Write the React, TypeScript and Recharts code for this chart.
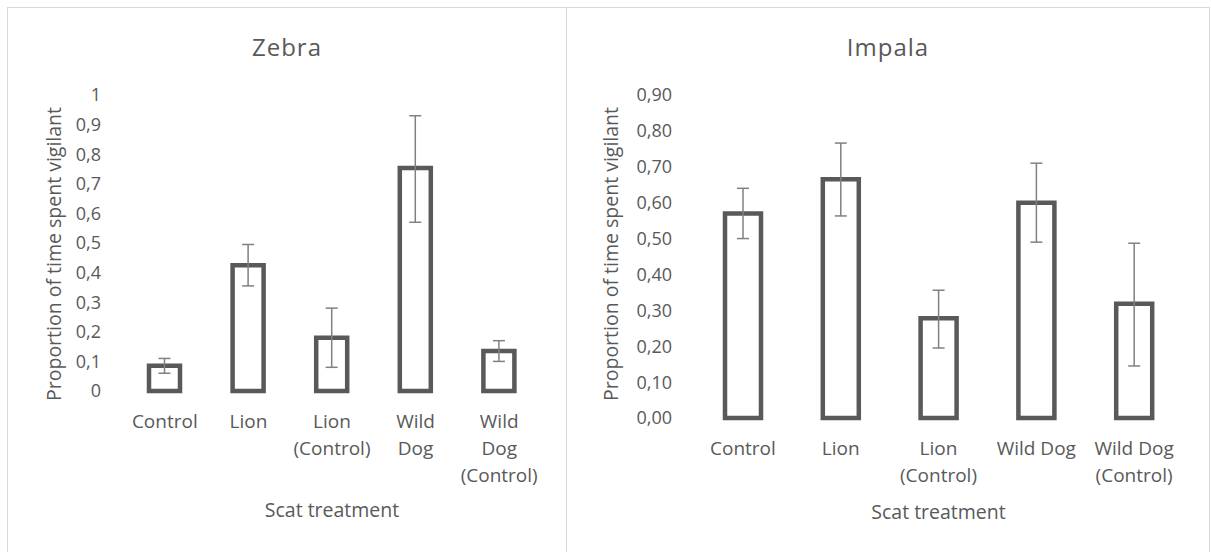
import React from 'react';
import { BarChart, Bar, XAxis, YAxis, ErrorBar, Label } from 'recharts';

// scat treatments (x categories)
const categories = ['Control', 'Lion', 'Lion (Control)', 'Wild Dog', 'Wild Dog (Control)'];

// zebra: mean proportion of time vigilant + error bar ends
const zebraMean = [0.085, 0.425, 0.18, 0.753, 0.135];
const zebraLow = [0.06, 0.355, 0.08, 0.57, 0.1];
const zebraHigh = [0.11, 0.495, 0.28, 0.93, 0.17];

// impala
const impalaMean = [0.57, 0.665, 0.278, 0.6, 0.318];
const impalaLow = [0.5, 0.563, 0.195, 0.49, 0.145];
const impalaHigh = [0.64, 0.766, 0.356, 0.71, 0.487];

// tick labels as they wrap in each panel
const zebraTickLabels = [['Control'], ['Lion'], ['Lion', '(Control)'], ['Wild', 'Dog'], ['Wild', 'Dog', '(Control)']];
const impalaTickLabels = [['Control'], ['Lion'], ['Lion', '(Control)'], ['Wild Dog'], ['Wild Dog', '(Control)']];

const zebraYTicks = [0, 0.1, 0.2, 0.3, 0.4, 0.5, 0.6, 0.7, 0.8, 0.9, 1];
const impalaYTicks = [0, 0.1, 0.2, 0.3, 0.4, 0.5, 0.6, 0.7, 0.8, 0.9];

const TEXT = '#595959';
const FONT = '"Open Sans", "DejaVu Sans", sans-serif';

const buildRows = (mean: number[], low: number[], high: number[]) =>
    categories.map((name, i) => ({
        name,
        value: mean[i],
        err: [mean[i] - low[i], high[i] - mean[i]],
    }));

const zebraData = buildRows(zebraMean, zebraLow, zebraHigh);
const impalaData = buildRows(impalaMean, impalaLow, impalaHigh);

function CategoryTick(props: any) {
    const { x, y, payload, lines } = props;
    const idx = categories.indexOf(payload.value);
    const rows: string[] = lines[idx] ?? [String(payload.value)];
    return (
        <text x={x} y={y} textAnchor="middle" fill={TEXT} fontSize={19} fontFamily={FONT}>
            {rows.map((r, i) => (
                <tspan key={i} x={x} dy={i === 0 ? '0.355em' : 27}>
                    {r}
                </tspan>
            ))}
        </text>
    );
}

function AxisTitle({ x, y, rotate }: { x: number; y: number; rotate?: boolean }) {
    return (props: any) => (
        <text
            x={x}
            y={y}
            dy="0.355em"
            textAnchor="middle"
            fill={TEXT}
            fontSize={19.5}
            fontFamily={FONT}
            transform={rotate ? `rotate(-90 ${x} ${y})` : undefined}
        >
            {props.value}
        </text>
    );
}

interface PanelProps {
    data: { name: string; value: number; err: number[] }[];
    left: number;
    width: number;
    plotLeft: number;
    plotRight: number;
    plotBottom: number;
    yMax: number;
    yTicks: number[];
    fmt: (v: number) => string;
    tickLines: string[][];
    barSize: number;
    yTitleX: number;
    xTitleY: number;
}

function Panel(p: PanelProps) {
    const height = 545;
    return (
        <div style={{ position: 'absolute', left: p.left, top: 7 }}>
            <BarChart
                width={p.width}
                height={height}
                data={p.data}
                margin={{ top: 88, right: p.width - p.plotRight, bottom: 0, left: 0 }}
                barSize={p.barSize}
            >
                <XAxis
                    dataKey="name"
                    height={height - p.plotBottom}
                    axisLine={false}
                    tickLine={false}
                    tickSize={0}
                    tickMargin={30}
                    interval={0}
                    tick={(t: any) => <CategoryTick {...t} lines={p.tickLines} />}
                >
                    <Label value="Scat treatment" content={AxisTitle({ x: (p.plotLeft + p.plotRight) / 2, y: p.xTitleY })} />
                </XAxis>
                <YAxis
                    type="number"
                    domain={[0, p.yMax]}
                    ticks={p.yTicks}
                    interval={0}
                    width={p.plotLeft}
                    axisLine={false}
                    tickLine={false}
                    tickSize={0}
                    tickMargin={22}
                    tickFormatter={p.fmt}
                    tick={{ fill: TEXT, fontSize: 18, fontFamily: FONT }}
                >
                    <Label value="Proportion of time spent vigilant" content={AxisTitle({ x: p.yTitleX, y: 247, rotate: true })} />
                </YAxis>
                <Bar dataKey="value" fill="#ffffff" stroke="#595959" strokeWidth={4.5} isAnimationActive={false}>
                    <ErrorBar dataKey="err" width={6} stroke="#808080" strokeWidth={1.5} direction="y" />
                </Bar>
            </BarChart>
        </div>
    );
}

export default function App() {
    return (
        <div
            style={{
                position: 'absolute',
                left: 0,
                top: 0,
                width: 1211,
                height: 552,
                overflow: 'hidden',
                background: '#ffffff',
                fontFamily: FONT,
            }}
        >
            <div style={{ position: 'absolute', left: 7, top: 7, width: 560, height: 600, border: '1px solid #d9d9d9', boxSizing: 'border-box' }} />
            <div style={{ position: 'absolute', left: 566, top: 7, width: 644, height: 600, border: '1px solid #d9d9d9', boxSizing: 'border-box' }} />

            <div style={{ position: 'absolute', left: 7, top: 30, width: 560, textAlign: 'center', fontSize: 24, letterSpacing: 1, color: TEXT }}>
                Zebra
            </div>
            <div style={{ position: 'absolute', left: 566, top: 30, width: 644, textAlign: 'center', fontSize: 24, letterSpacing: 1, color: TEXT }}>
                Impala
            </div>

            <Panel
                data={zebraData}
                left={7}
                width={559}
                plotLeft={116}
                plotRight={534}
                plotBottom={384}
                yMax={1}
                yTicks={zebraYTicks}
                fmt={(v) => String(v).replace('.', ',')}
                tickLines={zebraTickLabels}
                barSize={31}
                yTitleX={47}
                xTitleY={503}
            />
            <Panel
                data={impalaData}
                left={566}
                width={643}
                plotLeft={128}
                plotRight={617}
                plotBottom={411}
                yMax={0.9}
                yTicks={impalaYTicks}
                fmt={(v) => v.toFixed(2).replace('.', ',')}
                tickLines={impalaTickLabels}
                barSize={36}
                yTitleX={45}
                xTitleY={505}
            />
        </div>
    );
}
